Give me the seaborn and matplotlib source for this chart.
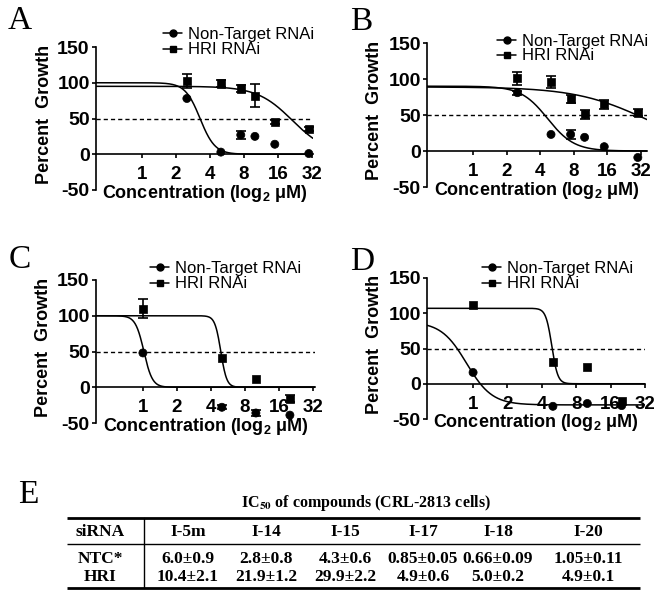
import numpy as np
import pandas as pd
import matplotlib
matplotlib.use("Agg")
import matplotlib.pyplot as plt
import seaborn as sns
from matplotlib.lines import Line2D
from matplotlib.ticker import NullLocator

sns.set_style("ticks", {"axes.edgecolor": "black", "xtick.color": "black",
                        "ytick.color": "black", "text.color": "black",
                        "axes.labelcolor": "black"})
plt.rcParams['font.family'] = ['Liberation Sans', 'DejaVu Sans']
plt.rcParams['mathtext.fontset'] = 'custom'
plt.rcParams['mathtext.rm'] = 'Liberation Sans:bold'
plt.rcParams['mathtext.it'] = 'Liberation Sans:bold'
plt.rcParams['mathtext.bf'] = 'Liberation Sans:bold'

# ---------------- data ----------------
series_names = ['Non-Target RNAi', 'HRI RNAi']
x_ticks = [1, 2, 4, 8, 16, 32]
y_ticks = [-50, 0, 50, 100, 150]

conc_AB = [2.5, 5, 7.5, 10, 15, 30]
conc_CD = [1, 5, 10, 20]

A_nt = [78, 3, 27, 25, 14, 1]
A_nt_err = [0, 0, 5, 0, 0, 0]
A_hri = [102, 99, 92, 82, 45, 35]
A_hri_err = [10, 5, 5, 16, 3, 3]

B_nt = [81, 23, 23, 19, 6, -9]
B_nt_err = [3, 0, 6, 0, 0, 0]
B_hri = [101, 96, 72, 51, 65, 53]
B_hri_err = [9, 8, 6, 6, 6, 5]

C_nt = [48, -28, -36, -39]
C_nt_err = [0, 3, 4, 0]
C_hri = [110, 41, 12, -16]
C_hri_err = [13, 0, 0, 5]

D_nt = [16, -32, -28, -31]
D_nt_err = [0, 0, 0, 0]
D_hri = [112, 31, 24, -25]
D_hri_err = [0, 0, 0, 0]

# fitted dose-response parameters: top, bottom, IC50 (uM), Hill slope
A_nt_fit = [100, 0, 3.27, 6.6]
A_hri_fit = [95, 0, 21.4, 2.8]
B_nt_fit = [90, 0, 4.66, 3.65]
B_hri_fit = [89, 0, 35.3, 1.36]
C_nt_fit = [100, 0, 1.02, 11.6]
C_hri_fit = [100, 0, 4.89, 16.6]
D_nt_fit = [88, -30, 0.877, 3.9]
D_hri_fit = [107, 0, 4.89, 16.6]

# table E
table_title = r'IC$_{\mathbf{50}}$ of compounds (CRL-2813 cells)'
table_header = ['siRNA', 'I-5m', 'I-14', 'I-15', 'I-17', 'I-18', 'I-20']
table_ntc = ['NTC*', '6.0±0.9', '2.8±0.8', '4.3±0.6', '0.85±0.05', '0.66±0.09', '1.05±0.11']
table_hri = ['HRI', '10.4±2.1', '21.9±1.2', '29.9±2.2', '4.9±0.6', '5.0±0.2', '4.9±0.1']

# ---------------- layout ----------------
W, H = 664, 597
fig = plt.figure(figsize=(W / 100, H / 100), dpi=100)


def rect(l, r, t, b):
    return [l / W, 1 - b / H, (r - l) / W, (b - t) / H]


def fig_xy(x, y):
    return (x / W, 1 - y / H)


def four_pl(x, p):
    top, bottom, ic50, hill = p
    return bottom + (top - bottom) / (1 + (x / ic50) ** hill)


panels = [
    dict(letter='A', rect=rect(96, 313, 47, 190), conc=conc_AB,
         nt=A_nt, nte=A_nt_err, hri=A_hri, hrie=A_hri_err,
         ntf=A_nt_fit, hrif=A_hri_fit, xlim=(2 ** -1.35, 2 ** 5.03),
         leg=(163, 27), let=(20, 21)),
    dict(letter='B', rect=rect(427, 647, 43, 187), conc=conc_AB,
         nt=B_nt, nte=B_nt_err, hri=B_hri, hrie=B_hri_err,
         ntf=B_nt_fit, hrif=B_hri_fit, xlim=(2 ** -1.37, 2 ** 5.18),
         leg=(497, 34), let=(361, 22), ls=-0.04),
    dict(letter='C', rect=rect(96, 315, 280, 423), conc=conc_CD,
         nt=C_nt, nte=C_nt_err, hri=C_hri, hrie=C_hri_err,
         ntf=C_nt_fit, hrif=C_hri_fit, xlim=(2 ** -1.38, 2 ** 5.06),
         leg=(150, 261), let=(20, 260)),
    dict(letter='D', rect=rect(427, 645, 278, 419), conc=conc_CD,
         nt=D_nt, nte=D_nt_err, hri=D_hri, hrie=D_hri_err,
         ntf=D_nt_fit, hrif=D_hri_fit, xlim=(2 ** -1.34, 2 ** 5.0),
         leg=(482, 261), let=(362, 262)),
]

for p in panels:
    ax = fig.add_axes(p['rect'])
    ax.set_xscale('log', base=2)
    ax.set_xlim(*p['xlim'])
    ax.set_ylim(-50, 150)

    # fitted curves
    xs = np.geomspace(p['xlim'][0], p['xlim'][1], 500)
    for fit in (p['ntf'], p['hrif']):
        sns.lineplot(x=xs, y=four_pl(xs, fit), color='black', lw=1.1,
                     ax=ax, errorbar=None, sort=False)

    # dashed 50% line
    ax.axhline(50, color='black', lw=1.0, ls=(0, (3, 2.2)), zorder=1)

    # data points
    df = pd.DataFrame({
        'conc': list(p['conc']) * 2,
        'pg': list(p['nt']) + list(p['hri']),
        'err': list(p['nte']) + list(p['hrie']),
        'series': [series_names[0]] * len(p['conc']) + [series_names[1]] * len(p['conc']),
    })
    sns.scatterplot(data=df, x='conc', y='pg', style='series',
                    markers={series_names[0]: 'o', series_names[1]: 's'},
                    color='black', edgecolor='black', s=34, linewidth=0.5,
                    legend=False, ax=ax, zorder=5, clip_on=False)
    e = df[df['err'] > 0]
    if len(e):
        ax.errorbar(e['conc'], e['pg'], yerr=e['err'], fmt='none',
                    ecolor='black', elinewidth=1.2, capsize=3.5,
                    capthick=1.2, zorder=4, clip_on=False)

    # axes styling
    sns.despine(ax=ax)
    ax.spines['bottom'].set_position(('data', 0))
    for s in ('left', 'bottom'):
        ax.spines[s].set_linewidth(1.2)
    ax.set_xticks(x_ticks)
    ax.set_xticklabels([str(t) for t in x_ticks])
    ax.xaxis.set_minor_locator(NullLocator())
    ax.set_yticks(y_ticks)
    ax.set_yticklabels([str(t) for t in y_ticks])
    ax.tick_params(axis='x', length=3, width=1.2, pad=5.5, labelsize=13.5)
    ax.tick_params(axis='y', length=3, width=1.2, pad=1.5, labelsize=14)
    for lab in ax.get_xticklabels() + ax.get_yticklabels():
        lab.set_fontweight('bold')

    ax.set_ylabel('Percent  Growth', fontsize=13, fontweight='bold')
    ax.yaxis.set_label_coords(-0.2, 0.53)
    ax.set_xlabel('Concentration (log$_2$ μM)', fontsize=13, fontweight='bold')
    ax.xaxis.set_label_coords(0.5, 0.05)

    handles = [Line2D([], [], color='black', lw=1.1, marker='o', ms=5),
               Line2D([], [], color='black', lw=1.1, marker='s', ms=5)]
    ax.legend(handles, series_names, loc='upper left',
              bbox_to_anchor=fig_xy(*p['leg']), bbox_transform=fig.transFigure,
              frameon=False, fontsize=12, handlelength=1.15,
              handletextpad=0.35, labelspacing=p.get('ls', 0.02),
              borderpad=0, borderaxespad=0)

    fig.text(*fig_xy(*p['let']), p['letter'], ha='center', va='center',
             family='Liberation Serif', fontsize=24)

# ---------------- table E ----------------
fig.text(*fig_xy(28, 495), 'E', ha='center', va='center',
         family='Liberation Serif', fontsize=24)

tax = fig.add_axes([0, 0, 1, 1 - 470 / H])
tax.set_xlim(0, W)
tax.set_ylim(H, 470)
tax.axis('off')

serif = dict(family='Liberation Serif', fontweight='bold',
             ha='center', va='center')
tax.text(366, 503, table_title, math_fontfamily='stix', fontsize=11.5, **serif)
tax.plot([67, 640], [518, 518], color='black', lw=2.0, solid_capstyle='butt')
tax.plot([67, 640], [544, 544], color='black', lw=1.0, solid_capstyle='butt')
tax.plot([67, 640], [588, 588], color='black', lw=2.0, solid_capstyle='butt')
tax.plot([144, 144], [518, 588], color='black', lw=1.0)

col_x = [100, 188, 266, 345, 423, 498, 588]
for row, y in ((table_header, 532), (table_ntc, 559), (table_hri, 577)):
    for x, txt in zip(col_x, row):
        tax.text(x, y, txt, fontsize=12.5, **serif)

fig.savefig('out.png', dpi=100)
